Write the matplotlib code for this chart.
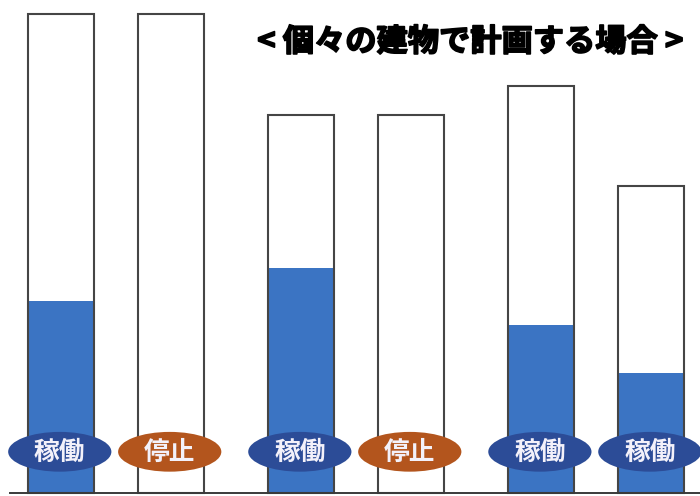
import matplotlib
matplotlib.use("Agg")
import matplotlib.pyplot as plt
import matplotlib.patheffects as pe
from matplotlib.patches import Ellipse

plt.rcParams['font.family'] = ['Noto Sans CJK JP', 'DejaVu Sans']

# capacity of each building's plant and the part that is running
capacity = [100, 100, 79, 79, 85, 64]
in_use = [40, 0, 47, 0, 35, 25]
status = ['稼働', '停止', '稼働', '停止', '稼働', '稼働']
group = [0, 0, 1, 1, 2, 2]
side = [-1, 1, -1, 1, -1, 1]
title = '< 個々の建物で計画する場合 >'

status_colors = {'稼働': '#2c4c97', '停止': '#b3551d'}

offset = 0.229
bar_w = 0.275
xs = [g + s * offset for g, s in zip(group, side)]

fig = plt.figure(figsize=(7.0, 4.96), dpi=100)
ax = fig.add_axes([0, 0, 1, 1])
ax.set_xlim(-0.483, 2.433)
ax.set_ylim(-0.63, 102.9)
ax.axis('off')

ax.bar(xs, in_use, width=bar_w, color='#3b74c3', edgecolor='none', zorder=2)
ax.bar(xs, capacity, width=bar_w, facecolor='none', edgecolor='#454545',
       linewidth=1.5, zorder=3)

ax.plot([-0.44, 2.433], [0, 0], color='#3a3a3a', linewidth=1.4, zorder=4)

for x, s in zip(xs, status):
    ax.add_patch(Ellipse((x - 0.005, 8.6), width=0.43, height=8.3,
                         facecolor=status_colors[s], edgecolor='none', zorder=5))
    ax.text(x - 0.005, 8.5, s, ha='center', va='center', fontsize=18.5,
            fontweight='bold', color='#f3f1fa', zorder=6)

fig.text(0.672, 0.915, title, ha='center', va='center', fontsize=22.5,
         fontweight='bold', color='black',
         path_effects=[pe.withStroke(linewidth=1.2, foreground='black')])

fig.savefig('out.png', dpi=100, facecolor='white')
